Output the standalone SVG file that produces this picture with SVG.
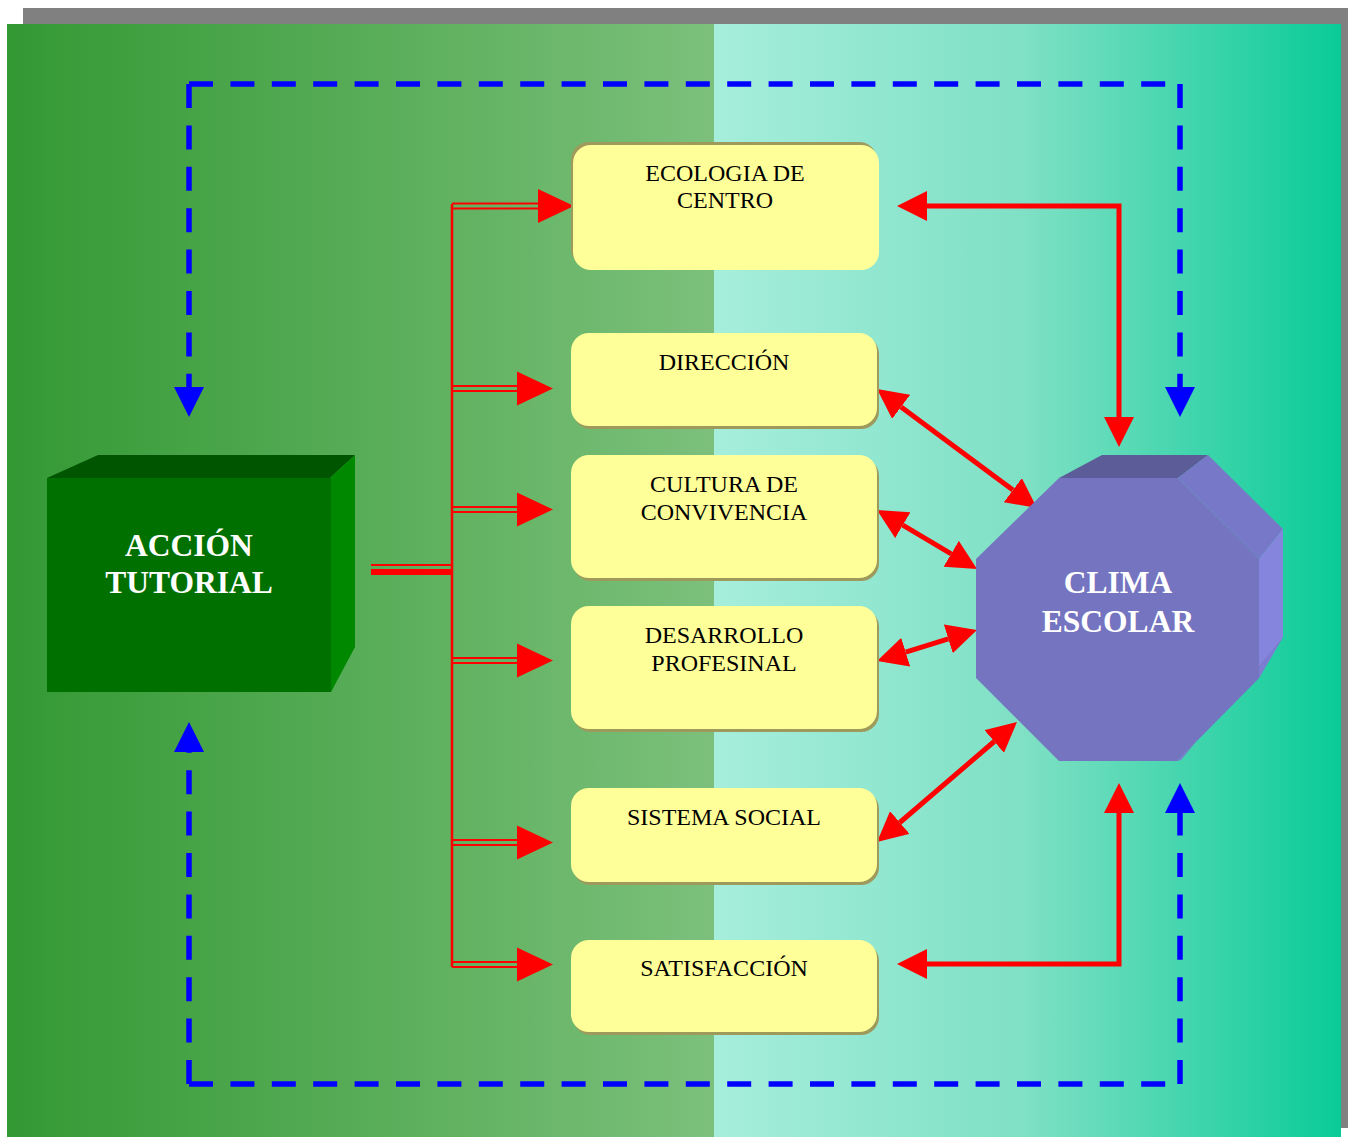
<svg xmlns="http://www.w3.org/2000/svg" width="1348" height="1137" viewBox="0 0 1348 1137">
<defs>
<linearGradient id="gL" x1="0" y1="0" x2="1" y2="0"><stop offset="0" stop-color="#339933"/><stop offset="1" stop-color="#7cc07c"/></linearGradient>
<linearGradient id="gR" x1="0" y1="0" x2="1" y2="0"><stop offset="0" stop-color="#a6eedc"/><stop offset="0.5" stop-color="#7ee0c4"/><stop offset="1" stop-color="#0acb98"/></linearGradient>
<marker id="ra" viewBox="0 -15 30 30" refX="0" refY="0" markerWidth="30" markerHeight="30" markerUnits="userSpaceOnUse" orient="auto-start-reverse"><path d="M0,-15 L30,0 L0,15Z" fill="#ff0000"/></marker>
<path id="br" d="M0,-17 L36,0 L0,17Z" fill="#ff0000"/>
<path id="bd" d="M-15,0 L15,0 L0,30Z" fill="#0000ff"/>
</defs>
<style>
.box{fill:#ffff99}
.sh{fill:#9e9a5c}
.t{font-family:"Liberation Serif","Times New Roman",serif;font-size:24px;fill:#000;text-anchor:middle}
.tb{font-family:"Liberation Serif","Times New Roman",serif;font-size:31.5px;font-weight:bold;fill:#fff;text-anchor:middle}
.rl{stroke:#ff0000;stroke-width:5;fill:none}
.dl{stroke:#ff0000;stroke-width:2;fill:none}
.bl{stroke:#0000ff;stroke-width:5.5;fill:none;stroke-dasharray:24 17.4}
</style>
<rect x="23" y="8" width="1325" height="1120" fill="#808080"/>
<rect x="7" y="24" width="707" height="1113" fill="url(#gL)"/>
<rect x="714" y="24" width="627" height="1113" fill="url(#gR)"/>

<g id="connectors">
<path class="bl" d="M189,84 V387"/>
<path class="bl" d="M189,84 H1180"/>
<path class="bl" d="M1180,84 V387"/>
<path class="bl" d="M189,1084 V752"/>
<path class="bl" d="M189,1084 H1180"/>
<path class="bl" d="M1180,1084 V813"/>
<use href="#bd" transform="translate(189,387)"/>
<use href="#bd" transform="translate(1180,387)"/>
<use href="#bd" transform="translate(189,752) scale(1,-1)"/>
<use href="#bd" transform="translate(1180,813) scale(1,-1)"/>

<line x1="371" y1="565" x2="452" y2="565" stroke="#ff0000" stroke-width="2"/>
<line x1="371" y1="572" x2="452" y2="572" stroke="#ff0000" stroke-width="6"/>
<line x1="452" y1="204" x2="452" y2="967" stroke="#ff0000" stroke-width="2.5"/>
<path class="dl" d="M452,203.5 H540 M452,208.5 H540"/>
<use href="#br" transform="translate(538,206)"/>
<path class="dl" d="M452,386 H519 M452,391 H519"/>
<use href="#br" transform="translate(517,388.5)"/>
<path class="dl" d="M452,507 H519 M452,512 H519"/>
<use href="#br" transform="translate(517,509.5)"/>
<path class="dl" d="M452,658 H519 M452,663 H519"/>
<use href="#br" transform="translate(517,660.5)"/>
<path class="dl" d="M452,840 H519 M452,845 H519"/>
<use href="#br" transform="translate(517,842.5)"/>
<path class="dl" d="M452,962 H519 M452,967 H519"/>
<use href="#br" transform="translate(517,964.5)"/>

<path class="rl" d="M927,206 H1119 V417" marker-start="url(#ra)" marker-end="url(#ra)"/>
<path class="rl" d="M927,964 H1119 V813" marker-start="url(#ra)" marker-end="url(#ra)"/>
<line class="rl" x1="901.1" y1="406.9" x2="1012.9" y2="490.1" marker-start="url(#ra)" marker-end="url(#ra)"/>
<line class="rl" x1="902.8" y1="525.2" x2="951.2" y2="553.8" marker-start="url(#ra)" marker-end="url(#ra)"/>
<line class="rl" x1="905.7" y1="652.1" x2="948.3" y2="638.9" marker-start="url(#ra)" marker-end="url(#ra)"/>
<line class="rl" x1="899.8" y1="822.5" x2="994.2" y2="741.5" marker-start="url(#ra)" marker-end="url(#ra)"/>
</g>

<g id="accion">
<polygon points="47,478 98,455 355,455 330,478" fill="#005500"/>
<polygon points="330,478 355,455 355,647 331,692" fill="#008800"/>
<rect x="47" y="478" width="284" height="214" fill="#007000"/>
<text class="tb" x="189" y="556">ACCIÓN</text>
<text class="tb" x="189" y="593">TUTORIAL</text>
</g>

<g id="clima">
<polygon points="1059,478 1102,455 1208,455 1178,478" fill="#5c5c98"/>
<polygon points="1178,478 1208,455 1283,529 1259,559" fill="#7878c8"/>
<polygon points="1259,559 1283,529 1283,637 1259,678" fill="#8585de"/>
<polygon points="1259,678 1283,637 1181,760 1177,761" fill="#7c7cd0"/>
<polygon points="1059,478 1178,478 1259,559 1259,678 1177,761 1059,761 976,678 976,559" fill="#7474c0"/>
<text class="tb" x="1118" y="593">CLIMA</text>
<text class="tb" x="1118" y="632">ESCOLAR</text>
</g>

<g id="ecologia">
<rect class="sh" x="571" y="142" width="306" height="125" rx="18"/>
<rect class="box" x="573" y="145" width="306" height="125" rx="18"/>
<text class="t" x="725" y="181">ECOLOGIA DE</text>
<text class="t" x="725" y="208">CENTRO</text>
</g>
<g id="direccion">
<rect class="sh" x="573" y="336" width="306" height="93" rx="18"/>
<rect class="box" x="571" y="333" width="306" height="93" rx="18"/>
<text class="t" x="724" y="370">DIRECCIÓN</text>
</g>
<g id="cultura">
<rect class="sh" x="573" y="458" width="306" height="123" rx="18"/>
<rect class="box" x="571" y="455" width="306" height="123" rx="18"/>
<text class="t" x="724" y="492">CULTURA DE</text>
<text class="t" x="724" y="520">CONVIVENCIA</text>
</g>
<g id="desarrollo">
<rect class="sh" x="573" y="609" width="306" height="123" rx="18"/>
<rect class="box" x="571" y="606" width="306" height="123" rx="18"/>
<text class="t" x="724" y="643">DESARROLLO</text>
<text class="t" x="724" y="671">PROFESINAL</text>
</g>
<g id="sistema">
<rect class="sh" x="573" y="791" width="306" height="94" rx="18"/>
<rect class="box" x="571" y="788" width="306" height="94" rx="18"/>
<text class="t" x="724" y="825">SISTEMA SOCIAL</text>
</g>
<g id="satisfaccion">
<rect class="sh" x="573" y="943" width="306" height="92" rx="18"/>
<rect class="box" x="571" y="940" width="306" height="92" rx="18"/>
<text class="t" x="724" y="976">SATISFACCIÓN</text>
</g>
</svg>
